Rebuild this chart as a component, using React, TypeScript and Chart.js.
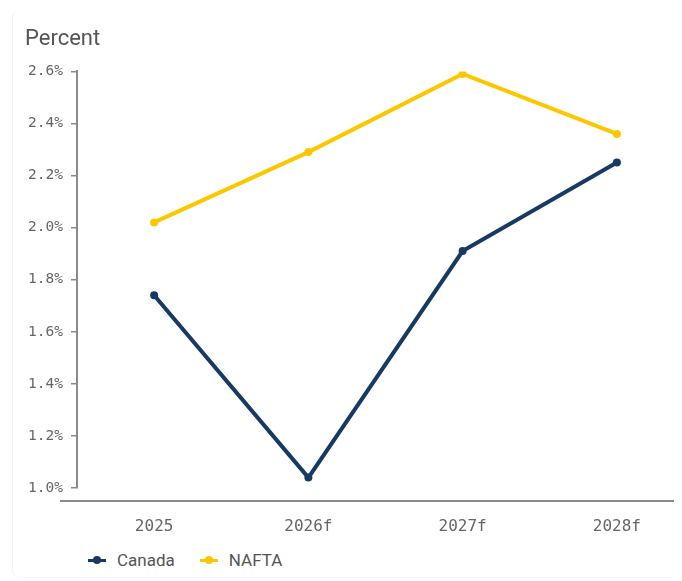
import React, { useEffect, useRef } from "react";
import { Chart, registerables } from "chart.js";

Chart.register(...registerables);

const categories = ["2025", "2026f", "2027f", "2028f"];
const canadaValues = [1.74, 1.04, 1.91, 2.25];
const naftaValues = [2.02, 2.29, 2.59, 2.36];
const seriesNames = ["Canada", "NAFTA"];
const seriesColors = ["#173a64", "#fdc700"];
const yTickMin = 1.0;
const yTickMax = 2.6;
const yTickStep = 0.2;

const xAxisLinePlugin = {
  id: "xAxisLine",
  afterDraw(chart: any) {
    const { ctx, chartArea } = chart;
    ctx.save();
    ctx.strokeStyle = "#8a8a8a";
    ctx.lineWidth = 2;
    ctx.beginPath();
    const y = chartArea.bottom + 13;
    ctx.moveTo(chartArea.left - 17, y);
    ctx.lineTo(chart.width, y);
    ctx.stroke();
    ctx.restore();
  },
};

function LegendGlyph({ color }: { color: string }) {
  return (
    <span style={{ position: "relative", display: "inline-block", width: 18, height: 10, marginRight: 11, verticalAlign: "middle" }}>
      <span style={{ position: "absolute", left: 0, top: 3.5, width: 18, height: 3, background: color }} />
      <span style={{ position: "absolute", left: 5, top: 1, width: 8, height: 8, borderRadius: 4, background: color }} />
    </span>
  );
}

export default function App() {
  const ref = useRef<HTMLCanvasElement | null>(null);
  useEffect(() => {
    if (!ref.current) return;
    const chart = new Chart(ref.current, {
      type: "line",
      data: {
        labels: categories,
        datasets: [
          {
            label: seriesNames[0],
            data: canadaValues,
            borderColor: seriesColors[0],
            backgroundColor: seriesColors[0],
            borderWidth: 4,
            pointRadius: 4,
            pointBorderWidth: 0,
            pointBackgroundColor: seriesColors[0],
            tension: 0,
          },
          {
            label: seriesNames[1],
            data: naftaValues,
            borderColor: seriesColors[1],
            backgroundColor: seriesColors[1],
            borderWidth: 4,
            pointRadius: 4,
            pointBorderWidth: 0,
            pointBackgroundColor: seriesColors[1],
            tension: 0,
          },
        ],
      },
      options: {
        animation: false,
        responsive: false,
        maintainAspectRatio: false,
        layout: { padding: { left: 17, right: 2, top: 0, bottom: 0 } },
        plugins: {
          legend: { display: false },
          tooltip: { enabled: false },
          title: {
            display: true,
            text: "Percent",
            align: "start",
            color: "#555555",
            font: { family: "Roboto, 'Liberation Sans', sans-serif", size: 22, weight: "normal" },
            padding: { top: 18, bottom: 19 },
          },
        },
        scales: {
          x: {
            type: "category",
            offset: true,
            grid: { display: false },
            border: { display: false },
            ticks: {
              color: "#666666",
              padding: 21,
              maxRotation: 0,
              font: { family: "'DejaVu Sans Mono', monospace", size: 16 },
            },
            afterFit: (scale: any) => {
              scale.height = 55;
            },
          },
          y: {
            min: yTickMin,
            max: yTickMax,
            ticks: {
              stepSize: yTickStep,
              color: "#666666",
              padding: 8,
              font: { family: "'DejaVu Sans Mono', monospace", size: 14.5 },
              callback: (v: any) => Number(v).toFixed(1) + "%",
            },
            grid: {
              display: true,
              drawOnChartArea: false,
              drawTicks: true,
              tickLength: 6,
              color: "#8a8a8a",
              lineWidth: 1.5,
            },
            border: { display: true, color: "#8a8a8a", width: 2 },
            afterFit: (scale: any) => {
              scale.width = 52;
            },
          },
        },
      },
      plugins: [xAxisLinePlugin],
    } as any);
    return () => chart.destroy();
  }, []);

  return (
    <div style={{ position: "relative", width: 674, height: 573, overflow: "hidden" }}>
      <div
        style={{
          position: "absolute",
          left: 4,
          top: 2,
          width: 800,
          height: 568,
          borderLeft: "1px solid #f2f2f2",
          borderBottom: "1px solid #f6f6f6",
          borderRadius: 8,
          boxSizing: "border-box",
        }}
      />
      <canvas
        ref={ref}
        width={690}
        height={535}
        style={{ position: "absolute", left: 0, top: 0, width: 690, height: 535 }}
      />
      <div
        style={{
          position: "absolute",
          left: 80,
          top: 541,
          height: 22,
          display: "flex",
          alignItems: "center",
          fontFamily: "Roboto, 'Liberation Sans', sans-serif",
          fontSize: 17,
          color: "#555555",
          whiteSpace: "nowrap",
        }}
      >
        <span style={{ display: "inline-flex", alignItems: "center", marginRight: 25 }}>
          <LegendGlyph color={seriesColors[0]} />
          {seriesNames[0]}
        </span>
        <span style={{ display: "inline-flex", alignItems: "center" }}>
          <LegendGlyph color={seriesColors[1]} />
          {seriesNames[1]}
        </span>
      </div>
    </div>
  );
}
